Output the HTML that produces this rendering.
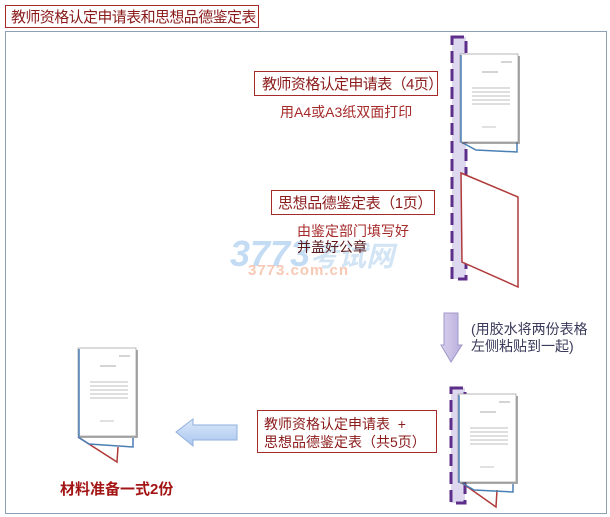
<!DOCTYPE html>
<html><head><meta charset="utf-8">
<style>
body{margin:0;width:610px;height:517px;background:#fff;position:relative;overflow:hidden;font-family:"Liberation Sans","Noto Sans CJK SC",sans-serif}
.t{position:absolute;white-space:nowrap;line-height:1}
.box{position:absolute;border:1px solid #a52a2a;background:#fff;color:#8b1a1a;box-sizing:border-box;white-space:nowrap;overflow:visible;line-height:1}
</style></head><body>
<svg width="610" height="517" style="position:absolute;left:0;top:0">
<defs>
<linearGradient id="lav" x1="0" x2="1"><stop offset="0" stop-color="#d8d0ec"/><stop offset="1" stop-color="#b8aede"/></linearGradient>
<linearGradient id="blu" x1="0" y1="0" x2="0" y2="1"><stop offset="0" stop-color="#dce9fa"/><stop offset="1" stop-color="#a9c6ef"/></linearGradient>
<g id="paper">
<rect x="2" y="2" width="58" height="88" fill="#555" opacity="0.5"/>
<rect x="0" y="0" width="58" height="88" fill="#fff" stroke="#888" stroke-width="0.6"/>
<line x1="41" y1="8" x2="52" y2="8" stroke="#aaa" stroke-width="1"/>
<line x1="22" y1="18" x2="38" y2="18" stroke="#aaa" stroke-width="1"/>
<g stroke="#aaa" stroke-width="0.7">
<line x1="12" y1="34" x2="50" y2="34"/><line x1="12" y1="38" x2="50" y2="38"/>
<line x1="12" y1="42" x2="50" y2="42"/><line x1="12" y1="46" x2="50" y2="46"/>
<line x1="12" y1="50" x2="50" y2="50"/>
<line x1="22" y1="73" x2="36" y2="73"/></g>
</g>
</defs>
<rect x="5.5" y="31.5" width="601" height="482" fill="none" stroke="#8ea0b4" stroke-width="1"/>
<rect x="452" y="37" width="14" height="242" fill="#ddd8ef" stroke="#5d2f8a" stroke-width="3" stroke-dasharray="12,6"/>
<polyline points="461,142 476,150 517,152 517,140" fill="none" stroke="#4a7fb5" stroke-width="1.5"/>
<use href="#paper" x="460" y="54"/>
<line x1="461" y1="55" x2="461" y2="142" stroke="#4a7fb5" stroke-width="1.5"/>
<polygon points="461,173 518,197 518,287 462,262" fill="#fff" stroke="#b03a3a" stroke-width="1.5"/>
<polygon points="444,313 458,313 458,345 462,345 451,362 441,345 444,345" fill="url(#lav)" stroke="#a098c8" stroke-width="1"/>
<rect x="451" y="388" width="14" height="115" fill="#ddd8ef" stroke="#5d2f8a" stroke-width="3" stroke-dasharray="12,6"/>
<polyline points="462,483 496,507 497,490" fill="none" stroke="#b03a3a" stroke-width="1.5"/>
<polyline points="462,483 474,490 513,492 513,484" fill="none" stroke="#4a7fb5" stroke-width="1.5"/>
<use href="#paper" x="458" y="394"/>
<line x1="459" y1="395" x2="459" y2="483" stroke="#4a7fb5" stroke-width="1.5"/>
<polyline points="78,437 117,462 118,447" fill="none" stroke="#b03a3a" stroke-width="1.5"/>
<polyline points="78,437 89,444 133,447 133,438" fill="none" stroke="#4a7fb5" stroke-width="1.5"/>
<use href="#paper" x="78" y="348"/>
<line x1="79" y1="349" x2="79" y2="437" stroke="#4a7fb5" stroke-width="1.5"/>
<polygon points="176,432 193,419 193,425 237,425 237,440 193,440 193,446" fill="url(#blu)" stroke="#8fb0dc" stroke-width="1"/>
</svg>
<div class="box" style="left:5px;top:5px;width:254px;height:23px;font-size:15px;padding:4px 0 0 5px;color:#8b1a1a;letter-spacing:-0.6px">教师资格认定申请表和思想品德鉴定表</div>
<div class="box" style="left:254px;top:71px;width:184px;height:25px;font-size:15px;padding:5px 0 0 7px;letter-spacing:-0.6px">教师资格认定申请表（4页）</div>
<div class="t" style="left:280px;top:105px;font-size:14px;color:#a52a2a">用A4或A3纸双面打印</div>
<div class="box" style="left:271px;top:190px;width:164px;height:25px;font-size:15px;padding:5px 0 0 6px;letter-spacing:-0.4px">思想品德鉴定表（1页）</div>
<div class="t" style="left:230px;top:236px;font-size:36px;font-style:italic;font-weight:bold;color:#9cc4ec;opacity:0.6">3773<span style="font-size:28px;color:#b6d4f0">考试网</span></div>
<div class="t" style="left:248px;top:263px;font-size:15px;font-weight:bold;color:#f8c8b4;letter-spacing:1px">3773.com.cn</div>
<div class="t" style="left:297px;top:224px;font-size:14px;color:#a52a2a">由鉴定部门填写好</div>
<div class="t" style="left:297px;top:240px;font-size:14px;color:#5a1a1a">并盖好公章</div>
<div class="t" style="left:471px;top:321px;font-size:14px;color:#3a3a5a;line-height:17px">(用胶水将两份表格<br>左侧粘贴到一起)</div>
<div class="box" style="left:257px;top:410px;width:180px;height:43px;font-size:14px;padding:4px 0 0 6px;line-height:18px">教师资格认定申请表 &nbsp;+<br>思想品德鉴定表（共5页）</div>
<div class="t" style="left:60px;top:482px;font-size:15px;font-weight:bold;color:#a31515">材料准备一式2份</div>
</body></html>
